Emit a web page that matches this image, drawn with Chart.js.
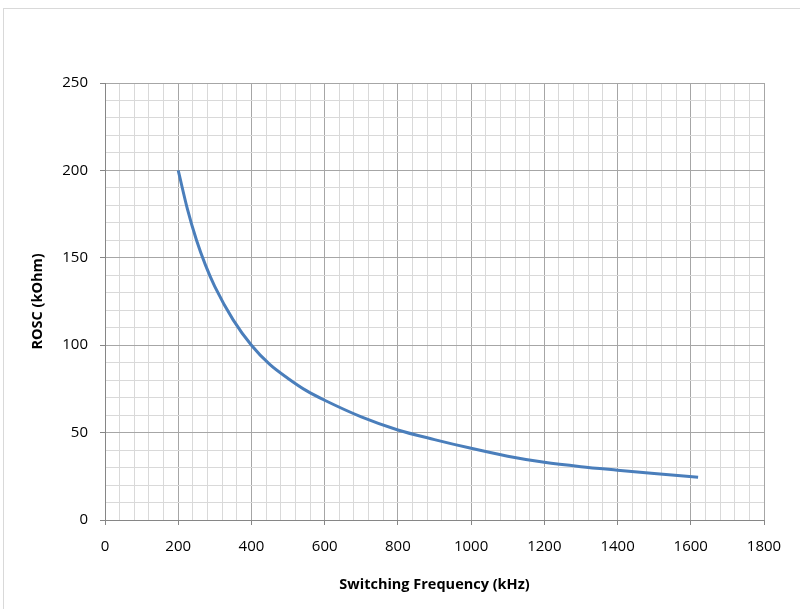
<!DOCTYPE html>
<html>
<head>
<meta charset="utf-8">
<script src="https://cdn.jsdelivr.net/npm/chart.js@4"></script>
<style>
  html, body { margin: 0; padding: 0; background: #fff; overflow: hidden; }
  .frame { position: absolute; left: 3px; top: 8px; width: 830px; height: 640px; border: 1px solid #d9d9d9; }
  .chartingen { position: absolute; left: 0; top: 0; width: 800px; height: 609px; }
</style>
</head>
<body>
<div class="frame"></div>
<div class="chartingen"><canvas id="chart" width="800" height="609"></canvas></div>
<script>
// values
const freqKHz = [200, 225, 250, 275, 300, 350, 400, 450, 500, 550, 600, 700, 800, 900, 1000, 1100, 1200, 1300, 1400, 1500, 1620];
const roscKOhm = [200, 178, 160, 145.5, 133.5, 114.5, 100, 89, 81, 74, 68.5, 59, 51.5, 46, 41, 36.5, 33, 30.5, 28.5, 26.6, 24.4];

const xTitle = "Switching Frequency (kHz)";
const yTitle = "ROSC (kOhm)";

const tickFont = { family: "'Open Sans', sans-serif", size: 15 };
const titleFont = { family: "'Open Sans', sans-serif", size: 14.5, weight: "bold" };

const gridColor = (major) => (ctx) =>
  ctx.tick && ctx.tick.value % major === 0 ? "#a6a6a6" : "#d9d9d9";
const tickStub = (major) => (ctx) =>
  ctx.tick && ctx.tick.value % major === 0 ? "#868686" : "rgba(0,0,0,0)";

const ctx = document.getElementById("chart").getContext("2d");
new Chart(ctx, {
  type: "scatter",
  data: {
    datasets: [
      {
        label: "ROSC",
        data: freqKHz.map((f, i) => ({ x: f, y: roscKOhm[i] })),
        showLine: true,
        borderColor: "#4a7ebb",
        borderWidth: 3,
        pointRadius: 0,
        fill: false,
        cubicInterpolationMode: "monotone",
      },
    ],
  },
  options: {
    responsive: false,
    animation: false,
    layout: { padding: { top: 83, right: 36, bottom: 10, left: 25 } },
    plugins: { legend: { display: false }, tooltip: { enabled: false } },
    scales: {
      x: {
        type: "linear",
        min: 0,
        max: 1800,
        afterFit: (scale) => { scale.height = 79; },
        border: { color: "#868686", width: 1 },
        grid: { color: gridColor(200), tickColor: tickStub(200), tickLength: 5 },
        ticks: {
          stepSize: 40,
          autoSkip: false,
          maxRotation: 0,
          padding: 13,
          color: "#000",
          font: tickFont,
          callback: (v) => (v % 200 === 0 ? v : ""),
        },
        title: { display: true, text: xTitle, color: "#000", font: titleFont, padding: { top: 4, bottom: 5 } },
      },
      y: {
        min: 0,
        max: 250,
        afterFit: (scale) => { scale.width = 80; },
        border: { color: "#868686", width: 1 },
        grid: { color: gridColor(50), tickColor: tickStub(50), tickLength: 5 },
        ticks: {
          stepSize: 10,
          autoSkip: false,
          padding: 12,
          color: "#000",
          font: tickFont,
          callback: (v) => (v % 50 === 0 ? v : ""),
        },
        title: { display: true, text: yTitle, color: "#000", font: titleFont, padding: { top: 4, bottom: 8 } },
      },
    },
  },
});
</script>
</body>
</html>
